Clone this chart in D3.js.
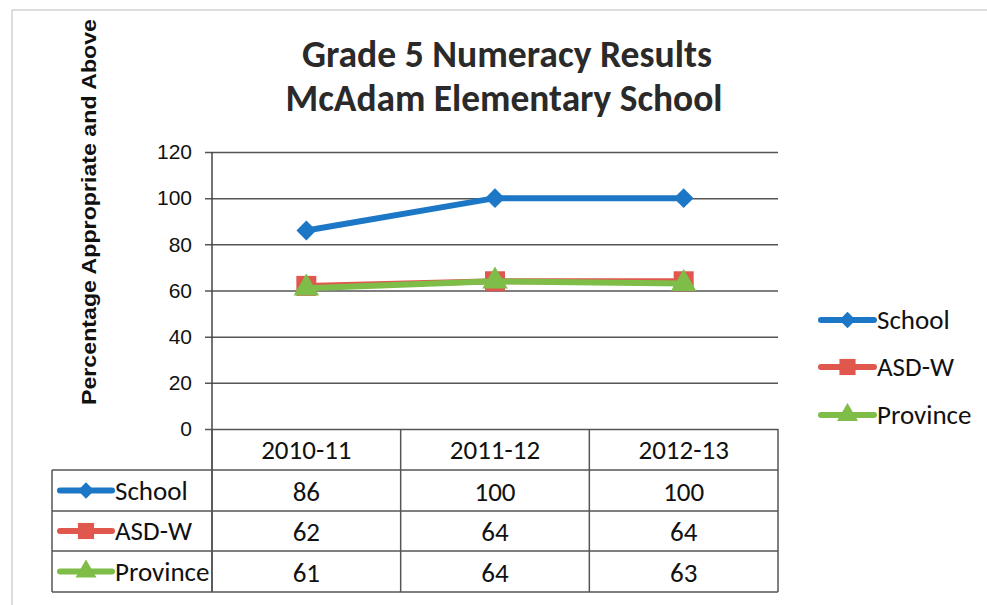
<!DOCTYPE html>
<html>
<head>
<meta charset="utf-8">
<script src="https://cdn.jsdelivr.net/npm/d3@7"></script>
<style>
  body { margin: 0; background: #fff; }
  svg { display: block; }
</style>
</head>
<body>
<svg id="chart" width="987" height="605"></svg>
<script>
// chart data
const years = ['2010-11', '2011-12', '2012-13'];
const seriesNames = ['School', 'ASD-W', 'Province'];
const schoolValues = [86, 100, 100];
const asdwValues = [62, 64, 64];
const provinceValues = [61, 64, 63];
const yTicks = [0, 20, 40, 60, 80, 100, 120];

const seriesColors = ['#1c78c6', '#e0574e', '#7dbd48'];
const diamond = d3.symbolDiamond2 || d3.symbolDiamond;
const markerTypes = [diamond, d3.symbolSquare, d3.symbolTriangle];
const markerSizes = [250, 400, 280];
const keySizes = [170, 260, 190];
const series = seriesNames.map((name, i) => ({
    name,
    values: [schoolValues, asdwValues, provinceValues][i],
    color: seriesColors[i],
    symbol: markerTypes[i],
    size: markerSizes[i],
    keySize: keySizes[i]
}));
// paint order: red under green, blue on top
const drawOrder = [1, 2, 0];

const svg = d3.select('#chart');
const bodyFont = 'Carlito, "Open Sans", "Noto Sans", sans-serif';
const axisFont = '"Liberation Sans", Arial, sans-serif';
const ink = '#111';

// plot box
const plotLeft = 212, plotRight = 778, plotTop = 152, plotBottom = 429;
const tableLeft = 52;
const rowEdges = [429, 470, 511, 551, 592];

const x = d3.scaleBand().domain(years).range([plotLeft, plotRight]);
const y = d3.scaleLinear().domain([0, 120]).range([plotBottom, plotTop]);

// outer frame (faint scan edge)
svg.append('path')
    .attr('d', 'M12,605 L12,10 L987,10')
    .attr('fill', 'none')
    .attr('stroke', '#bbb')
    .attr('stroke-width', 1);

// title
svg.append('text')
    .attr('x', 507).attr('y', 67)
    .attr('text-anchor', 'middle')
    .attr('font-family', bodyFont)
    .attr('font-weight', 'bold')
    .attr('font-size', 38)
    .attr('fill', '#2a2a2a')
    .attr('textLength', 410).attr('lengthAdjust', 'spacingAndGlyphs')
    .text('Grade 5 Numeracy Results');
svg.append('text')
    .attr('x', 504).attr('y', 111)
    .attr('text-anchor', 'middle')
    .attr('font-family', bodyFont)
    .attr('font-weight', 'bold')
    .attr('font-size', 38)
    .attr('fill', '#2a2a2a')
    .attr('textLength', 437).attr('lengthAdjust', 'spacingAndGlyphs')
    .text('McAdam Elementary School');

// y-axis title
svg.append('text')
    .attr('transform', 'translate(96,212) rotate(-90)')
    .attr('text-anchor', 'middle')
    .attr('font-family', axisFont)
    .attr('font-weight', 'bold')
    .attr('font-size', 21)
    .attr('fill', ink)
    .attr('textLength', 386).attr('lengthAdjust', 'spacingAndGlyphs')
    .text('Percentage Appropriate and Above');

// gridlines + ticks
const yAxis = d3.axisLeft(y).tickValues(yTicks).tickSize(-(plotRight - plotLeft)).tickPadding(20);
const gy = svg.append('g').attr('transform', `translate(${plotLeft},0)`).call(yAxis);
gy.select('.domain').remove();
gy.selectAll('.tick line')
    .attr('x1', -7)
    .attr('stroke', '#555')
    .attr('stroke-width', 1.5);
gy.selectAll('.tick text')
    .attr('font-family', axisFont)
    .attr('font-size', 21)
    .attr('fill', ink);

// vertical axis line
svg.append('line')
    .attr('x1', plotLeft).attr('x2', plotLeft)
    .attr('y1', plotTop).attr('y2', rowEdges[rowEdges.length - 1])
    .attr('stroke', '#444').attr('stroke-width', 1.5);

// lines and markers
const line = d3.line()
    .x((d, i) => x(years[i]) + x.bandwidth() / 2)
    .y((d) => y(d));

drawOrder.map((i) => series[i]).forEach((s) => {
    svg.append('path')
        .datum(s.values)
        .attr('d', line)
        .attr('fill', 'none')
        .attr('stroke', s.color)
        .attr('stroke-width', 6);
    svg.selectAll(null)
        .data(s.values)
        .enter().append('path')
        .attr('transform', (d, i) => `translate(${x(years[i]) + x.bandwidth() / 2},${y(d)})`)
        .attr('d', d3.symbol().type(s.symbol).size(s.size))
        .attr('fill', s.color);
});

// data table
const tableLines = svg.append('g')
    .attr('stroke', '#555')
    .attr('stroke-width', 1.5);
// column dividers incl. header row
[plotLeft, ...years.map((yr) => x(yr) + x.bandwidth()).slice(0, -1), plotRight].forEach((cx) => {
    tableLines.append('line')
        .attr('x1', cx).attr('x2', cx)
        .attr('y1', rowEdges[0]).attr('y2', rowEdges[rowEdges.length - 1]);
});
tableLines.append('line')
    .attr('x1', tableLeft).attr('x2', tableLeft)
    .attr('y1', rowEdges[1]).attr('y2', rowEdges[rowEdges.length - 1]);
rowEdges.slice(1).forEach((ry) => {
    tableLines.append('line')
        .attr('x1', tableLeft).attr('x2', plotRight)
        .attr('y1', ry).attr('y2', ry);
});

// header labels
svg.selectAll('.hdr')
    .data(years)
    .enter().append('text')
    .attr('x', (d) => x(d) + x.bandwidth() / 2)
    .attr('y', (rowEdges[0] + rowEdges[1]) / 2 + 9)
    .attr('text-anchor', 'middle')
    .attr('font-family', bodyFont)
    .attr('font-size', 27)
    .attr('fill', ink)
    .text((d) => d);

// legend key helper
const drawKey = (g, s, x0, x1) => {
    g.append('line')
        .attr('x1', x0).attr('x2', x1)
        .attr('stroke', s.color)
        .attr('stroke-width', 6)
        .attr('stroke-linecap', 'round');
    g.append('path')
        .attr('transform', `translate(${(x0 + x1) / 2},0)`)
        .attr('d', d3.symbol().type(s.symbol).size(s.keySize))
        .attr('fill', s.color);
};

series.forEach((s, r) => {
    const cy = (rowEdges[r + 1] + rowEdges[r + 2]) / 2;
    const row = svg.append('g').attr('transform', `translate(0,${cy})`);
    drawKey(row, s, 60, 112);
    row.append('text')
        .attr('x', 115).attr('y', 9)
        .attr('font-family', bodyFont)
        .attr('font-size', 27)
        .attr('fill', ink)
        .text(s.name);
    row.selectAll('.val')
        .data(s.values)
        .enter().append('text')
        .attr('x', (d, i) => x(years[i]) + x.bandwidth() / 2)
        .attr('y', 10)
        .attr('text-anchor', 'middle')
        .attr('font-family', bodyFont)
        .attr('font-size', 27)
        .attr('fill', ink)
        .text((d) => d);
});

// right legend
const legendY = [320, 367, 415];
series.forEach((s, i) => {
    const g = svg.append('g').attr('transform', `translate(0,${legendY[i]})`);
    drawKey(g, s, 821, 874);
    g.append('text')
        .attr('x', 877).attr('y', 9)
        .attr('font-family', bodyFont)
        .attr('font-size', 27)
        .attr('fill', ink)
        .text(s.name);
});
</script>
</body>
</html>
